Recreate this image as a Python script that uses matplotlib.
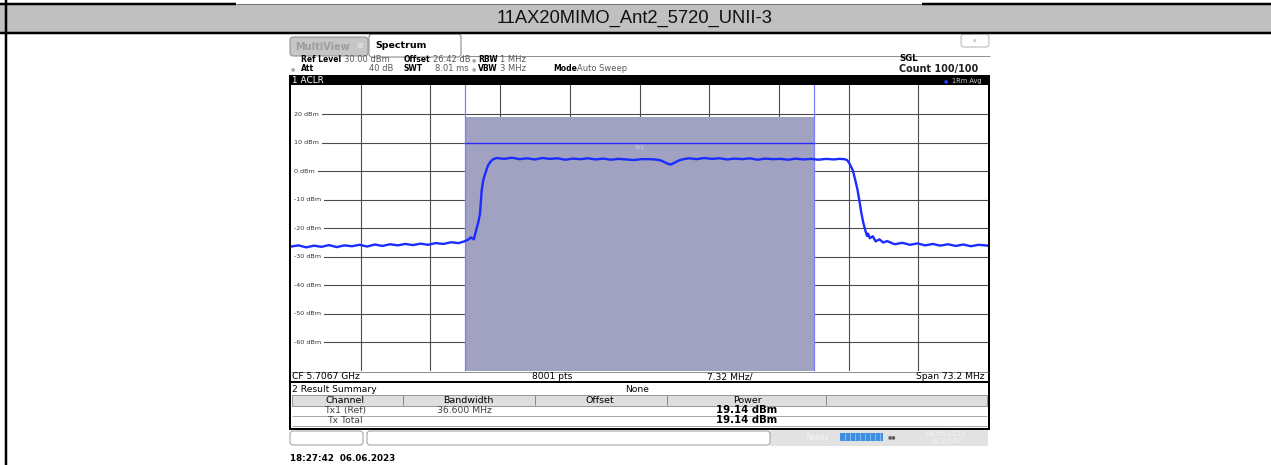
import matplotlib.pyplot as plt
from matplotlib.patches import Rectangle, FancyBboxPatch

title = "11AX20MIMO_Ant2_5720_UNII-3"

# analyzer settings
center_text = "CF 5.7067 GHz"
span_mhz = 73.2
div_mhz = 7.32
ref_level = 30
db_per_div = 10
grid_levels = [20, 10, 0, -10, -20, -30, -40, -50, -60]

channel_bw = 36.6
tx1_power = 19.14
tx_total = 19.14

# trace (MHz offset from CF, dBm)
left_mhz = [-36.6, -35.8, -35.0, -34.2, -33.4, -32.6, -31.8, -31.0, -30.2, -29.4, -28.6, -27.8,
            -27.0, -26.2, -25.4, -24.6, -23.8, -23.0, -22.2, -21.4, -20.6, -19.8, -19.0, -18.4]
left_dbm = [-26.4, -26.0, -26.7, -26.1, -26.5, -25.9, -26.6, -26.0, -26.3, -25.8, -26.4, -25.7,
            -26.2, -25.6, -26.0, -25.5, -25.9, -25.4, -25.8, -25.2, -25.5, -24.9, -25.2, -24.6]

rise_mhz = [-18.0, -17.7, -17.4, -17.1, -16.9, -16.75, -16.57, -16.4, -16.2, -15.9, -15.6, -15.35]
rise_dbm = [-24.0, -23.2, -23.9, -20.0, -17.5, -14.8, -6.6, -3.0, -0.8, 2.1, 3.5, 4.2]

top_mhz = [-15.0, -14.2, -13.4, -12.6, -11.8, -11.0, -10.2, -9.4, -8.6, -7.8, -7.0, -6.2, -5.4,
           -4.6, -3.8, -3.0, -2.2, -1.4, -0.6, 0.2, 1.0, 1.6, 2.2, 2.6, 2.9, 3.3, 3.7, 4.1, 4.6,
           5.2, 6.0, 6.8, 7.6, 8.4, 9.2, 10.0, 10.8, 11.6, 12.4, 13.2, 14.0, 14.8, 15.6, 16.4,
           17.2, 18.0, 18.8, 19.6, 20.4, 21.0, 21.5]
top_dbm = [4.6, 4.3, 4.7, 4.2, 4.5, 4.1, 4.6, 4.3, 4.5, 4.0, 4.4, 4.2, 4.5,
           4.1, 4.4, 4.0, 4.3, 4.1, 3.9, 4.2, 4.2, 4.1, 3.8, 3.2, 2.7, 2.3, 3.0, 3.7, 4.2,
           4.5, 4.2, 4.6, 4.3, 4.5, 4.1, 4.4, 4.2, 4.5, 4.0, 4.4, 4.2, 4.3, 4.0, 4.4,
           4.1, 4.3, 4.0, 4.3, 4.1, 4.3, 4.2]

fall_mhz = [21.8, 22.05, 22.4, 22.65, 22.9, 23.1, 23.3, 23.5, 23.7, 23.9, 24.0]
fall_dbm = [3.9, 2.7, 0.3, -3.0, -6.6, -10.5, -14.7, -18.0, -20.6, -22.7, -21.9]

right_mhz = [24.2, 24.5, 24.8, 25.2, 25.6, 26.0, 26.8, 27.6, 28.4, 29.2, 30.0, 30.8,
             31.6, 32.4, 33.2, 34.0, 34.8, 35.6, 36.6]
right_dbm = [-23.5, -22.8, -24.6, -23.9, -25.0, -24.5, -25.6, -25.1, -25.8, -25.3, -26.0, -25.5,
             -26.1, -25.6, -26.2, -25.7, -26.3, -25.8, -26.1]

trace_mhz = left_mhz + rise_mhz + top_mhz + fall_mhz + right_mhz
trace_dbm = left_dbm + rise_dbm + top_dbm + fall_dbm + right_dbm

W, H = 1271, 465
PX = 0.72  # one pixel in points at dpi 100

fig = plt.figure(figsize=(W / 100, H / 100), dpi=100, facecolor='white')
bg = fig.add_axes([0, 0, 1, 1])
bg.set_xlim(0, W)
bg.set_ylim(H, 0)
bg.axis('off')


def box(x0, y0, x1, y1, fc, ec='none', lw=0, z=1, rounded=False):
    if rounded:
        p = FancyBboxPatch((x0, y0), x1 - x0, y1 - y0, boxstyle="round,pad=0,rounding_size=3",
                           fc=fc, ec=ec, lw=lw * PX, zorder=z)
    else:
        p = Rectangle((x0, y0), x1 - x0, y1 - y0, fc=fc, ec=ec, lw=lw * PX, zorder=z)
    bg.add_patch(p)


def line(xs, ys, color='black', w=2, z=3):
    bg.plot(xs, ys, color=color, lw=w * PX, solid_capstyle='butt', zorder=z)


def txt(x, y, s, size=5.8, color='black', ha='left', weight='normal', **kw):
    bg.text(x, y, s, fontsize=size, color=color, ha=ha, va='center', fontweight=weight,
            family='DejaVu Sans', zorder=5, **kw)


# table header row
box(0, 5, W, 32, '#c0c0c0')
line([0, 236], [4, 4], w=2.5)
line([236, 922], [4.5, 4.5], color='#707070', w=1)
line([922, W], [4, 4], w=2.5)
line([0, W], [33, 33], w=2.5)
line([6, 6], [0, H], w=2.5)
bg.text(635, 18.5, title, fontsize=13.2, family='Liberation Sans', color='#111111',
        ha='center', va='center')

# tabs
box(290, 37, 368, 56, '#c6c6c6', ec='#8c8c8c', lw=1, rounded=True)
txt(295, 46.5, "MultiView", size=7, color='#9c9c9c', weight='bold')
txt(356, 46, "\u229e", size=5.5, color='#e8e8e8')
box(369, 34, 461, 57, 'white', ec='#808080', lw=1, rounded=True, z=2)
txt(375, 45, "Spectrum", size=6.8, weight='bold')
line([461, 990], [56, 56], color='#909090', w=1)
box(961, 34, 989, 47, 'white', ec='#b4b4b4', lw=1, rounded=True)
txt(975, 41, "\u25be", size=5, color='#c0c0c0', ha='center')

# settings lines
r1, r2 = 59.5, 68.5
lab, val = 5.5, 6.0
txt(301, r1, "Ref Level", size=lab, weight='bold')
txt(344, r1, "30.00 dBm", size=val, color='#5a5a5a')
txt(404, r1, "Offset", size=lab, weight='bold')
txt(433, r1, "26.42 dB", size=val, color='#5a5a5a')
txt(472, r1, "\u25cf", size=3.5, color='#a8a8a8')
txt(478, r1, "RBW", size=lab, weight='bold')
txt(500, r1, "1 MHz", size=val, color='#5a5a5a')
txt(291, r2, "\u25cf", size=3.5, color='#a8a8a8')
txt(301, r2, "Att", size=lab, weight='bold')
txt(393, r2, "40 dB", size=val, color='#5a5a5a', ha='right')
txt(404, r2, "SWT", size=lab, weight='bold')
txt(469, r2, "8.01 ms", size=val, color='#5a5a5a', ha='right')
txt(472, r2, "\u25cf", size=3.5, color='#a8a8a8')
txt(478, r2, "VBW", size=lab, weight='bold')
txt(500, r2, "3 MHz", size=val, color='#5a5a5a')
txt(553, r2, "Mode", size=lab, weight='bold')
txt(577, r2, "Auto Sweep", size=val, color='#5a5a5a')
txt(899, 58.5, "SGL", size=6.2, weight='bold')
txt(899, 69, "Count 100/100", size=6.9, weight='bold', color='#202020')

# window title bar
box(289, 75.5, 990, 85.5, 'black', z=2)
txt(292, 80.5, "1 ACLR", size=6.4, color='white')
txt(944, 80.5, "\u25cf", size=3.5, color='#2040ff')
txt(982, 80.5, "1Rm Avg", size=4.8, color='#c8c8c8', ha='right')

# spectrum diagram
px0, px1, py0, py1 = 291, 988, 85.5, 371
ax = fig.add_axes([px0 / W, 1 - py1 / H, (px1 - px0) / W, (py1 - py0) / H])
ax.set_xlim(-span_mhz / 2, span_mhz / 2)
ax.set_ylim(ref_level - 10 * db_per_div, ref_level)
ax.set_xticks([])
ax.set_yticks([])
for s in ax.spines.values():
    s.set_visible(False)

for k in range(-4, 5):
    ax.axvline(k * div_mhz, color='#4c4c4c', lw=0.8, zorder=1)
for lv in grid_levels:
    ax.axhline(lv, color='#4c4c4c', lw=0.8, zorder=1)
    ax.text(-span_mhz / 2 + 0.32, lv, f"{lv} dBm", fontsize=4.6, color='#333333',
            va='center', ha='left', zorder=1.5,
            bbox=dict(fc='white', ec='none', pad=2.0))

half = channel_bw / 2
ax.fill_between([-half, half], ref_level - 10 * db_per_div, tx1_power,
                color='#a1a1c2', lw=0, zorder=2)
ax.axvline(-half, color='#7c7cff', lw=0.9, zorder=3)
ax.axvline(half, color='#7c7cff', lw=0.9, zorder=3)
ax.hlines(10, -half, half, color='#2a2aff', lw=1.0, zorder=3)
ax.text(0, 8.3, "Tx1", fontsize=4, color='#d4d4e4', ha='center', va='center', zorder=3)
ax.plot(trace_mhz, trace_dbm, color='#1a2cff', lw=1.7, zorder=4)

# frame around the diagram and results
line([290, 290], [75.5, 430])
line([989, 989], [75.5, 430])
line([291, 988], [371.5, 371.5], color='#909090', w=1)
f_y = 376.5
txt(292, f_y, center_text, size=6.6)
txt(552, f_y, "8001 pts", size=6.6, ha='center')
txt(730, f_y, f"{div_mhz:.2f} MHz/", size=6.6, ha='center')
txt(984, f_y, f"Span {span_mhz:.1f} MHz", size=6.6, ha='right')
line([289, 990], [382, 382])

# result summary
txt(292, 389, "2 Result Summary", size=6.6)
txt(637, 389, "None", size=6.6, ha='center')
box(292, 394.5, 987, 405.5, '#dedede', ec='#9a9a9a', lw=1)
for cx in [403, 535, 667, 826]:
    line([cx, cx], [395, 405], color='#8a8a8a', w=1)
hy = 400.2
txt(345, hy, "Channel", size=6.8, ha='center')
txt(468, hy, "Bandwidth", size=6.8, ha='center')
txt(600, hy, "Offset", size=6.8, ha='center')
txt(747, hy, "Power", size=6.8, ha='center')
for ry in [415.5, 425.5]:
    line([292, 987], [ry, ry], color='#a8a8a8', w=1)
txt(345, 410.6, "Tx1 (Ref)", size=6.7, ha='center', color='#404040')
txt(437, 410.6, f"{channel_bw:.3f} MHz", size=6.7, color='#404040')
txt(747, 410.4, f"{tx1_power:.2f} dBm", size=7.3, ha='center', weight='bold')
txt(345, 420.6, "Tx Total", size=6.7, ha='center', color='#404040')
txt(747, 420.4, f"{tx_total:.2f} dBm", size=7.3, ha='center', weight='bold')
line([289, 990], [429, 429])

# status bar
box(770, 430, 988, 446, '#e2e2e2')
box(290, 431, 363, 445, 'white', ec='#9c9c9c', lw=1, rounded=True, z=2)
box(367, 431, 770, 445, 'white', ec='#9c9c9c', lw=1, rounded=True, z=2)
txt(805, 437.5, "Ready", size=5.5, color='#f4f4f4')
box(840, 433, 883, 440.5, '#3d8ee2', z=2)
for sx in [845, 850, 855, 860, 865, 870, 875, 880]:
    line([sx, sx], [433, 440.5], color='#a8ccf2', w=0.7)
txt(888, 437, "\u25cf\u25cf", size=3.5, color='#606060')
txt(946, 434, "06.06.2023", size=5, color='#f4f4f4', ha='center')
txt(946, 441, "18:27:42", size=5, color='#f4f4f4', ha='center')

txt(290, 458, "18:27:42  06.06.2023", size=6.3, weight='bold')

fig.savefig('out.png', dpi=100, facecolor='white')
